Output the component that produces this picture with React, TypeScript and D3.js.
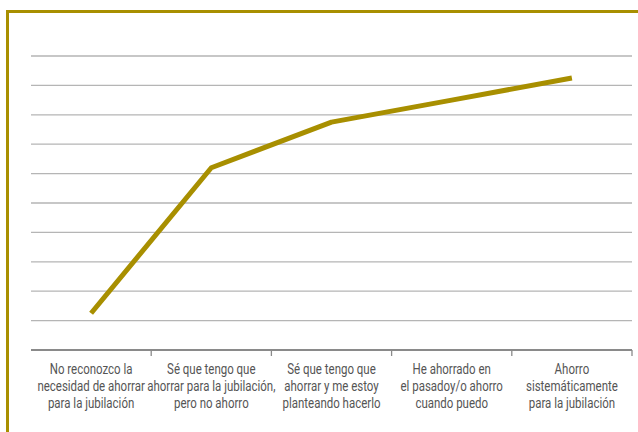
import React from "react";
import * as d3 from "d3";

const categories: string[][] = [
  ["No reconozco la", "necesidad de ahorrar", "para la jubilación"],
  ["Sé que tengo que", "ahorrar para la jubilación,", "pero no ahorro"],
  ["Sé que tengo que", "ahorrar y me estoy", "planteando hacerlo"],
  ["He ahorrado en", "el pasadoy/o ahorro", "cuando puedo"],
  ["Ahorro", "sistemáticamente", "para la jubilación"],
];
const values: number[] = [1.25, 6.2, 7.75, 8.5, 9.25];
const gridTicks: number[] = [1, 2, 3, 4, 5, 6, 7, 8, 9, 10];

const W = 638;
const H = 432;
const GOLD = "#a88f00";

export default function App() {
  const x = d3
    .scaleBand<number>()
    .domain(categories.map((_, i) => i))
    .range([31, 632]);
  const y = d3.scaleLinear().domain([0, 10]).range([350, 56]);
  const line = d3
    .line<number>()
    .x((_, i) => (x(i) as number) + x.bandwidth() / 2)
    .y((d) => y(d));
  const boundaries = categories.map((_, i) => x(i) as number).concat([632]);

  return (
    <svg
      width={W}
      height={H}
      style={{ position: "absolute", left: 0, top: 0, background: "#fff" }}
      fontFamily="Roboto, 'Noto Sans', sans-serif"
    >
      <rect x={0} y={0} width={W} height={H} fill="#fff" />
      <rect
        x={7.5}
        y={11.5}
        width={W + 20}
        height={H + 20}
        fill="none"
        stroke={GOLD}
        strokeWidth={3}
      />
      {gridTicks.map((t) => (
        <line
          key={t}
          x1={31}
          x2={632}
          y1={y(t)}
          y2={y(t)}
          stroke="#b5b5b5"
          strokeWidth={1.3}
        />
      ))}
      <line x1={31} x2={632} y1={y(0)} y2={y(0)} stroke="#8a8a8a" strokeWidth={2} />
      {boundaries.slice(1).map((b, i) => (
        <line key={i} x1={b} x2={b} y1={y(0)} y2={y(0) + 6} stroke="#8a8a8a" strokeWidth={1.3} />
      ))}
      <path
        d={line(values) || ""}
        fill="none"
        stroke={GOLD}
        strokeWidth={5}
        strokeLinejoin="round"
      />
      {categories.map((lines, i) => {
        const cx = (x(i) as number) + x.bandwidth() / 2;
        return (
          <g key={i} transform={`translate(${cx},0) scale(0.82,1)`}>
            <text textAnchor="middle" fontSize={14} fill="#555">
              {lines.map((l, j) => (
                <tspan key={j} x={0} y={374 + j * 17}>
                  {l}
                </tspan>
              ))}
            </text>
          </g>
        );
      })}
    </svg>
  );
}
